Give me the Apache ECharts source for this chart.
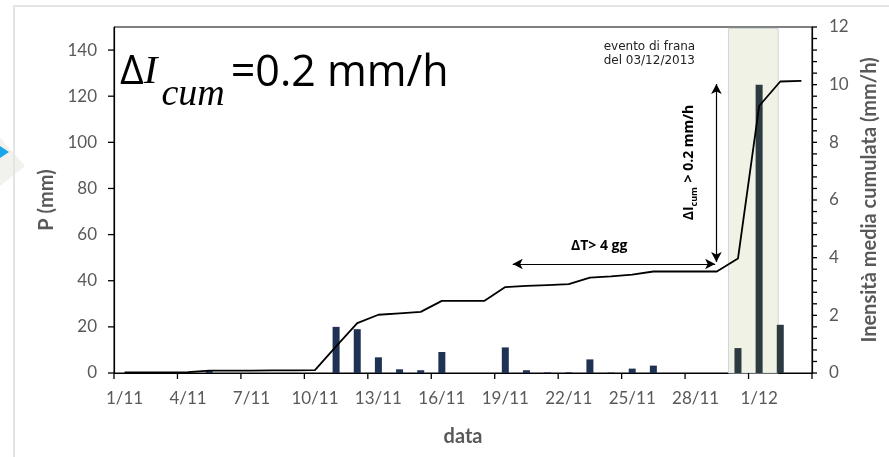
<!DOCTYPE html>
<html><head><meta charset="utf-8">
<script src="https://cdn.jsdelivr.net/npm/echarts@6/dist/echarts.min.js"></script>
<style>html,body{margin:0;padding:0;background:#fff}#c{width:889px;height:457px}</style>
</head><body><div id="c"></div>
<script>
// ---- data ----
const categories = ['1/11','2/11','3/11','4/11','5/11','6/11','7/11','8/11','9/11','10/11',
  '11/11','12/11','13/11','14/11','15/11','16/11','17/11','18/11','19/11','20/11',
  '21/11','22/11','23/11','24/11','25/11','26/11','27/11','28/11','29/11','30/11',
  '1/12','2/12','3/12'];
const rain = [0,0,0,0,1.2,0,0,0,0,0,
  20,19,6.8,1.6,1.2,9.1,0,0,11.1,1.2,
  0.3,0.3,5.9,0.2,1.9,3.2,0,0,0,10.8,
  125,20.9,0];
const icum = [0.02,0.02,0.02,0.03,0.08,0.08,0.08,0.09,0.09,0.1,
  0.92,1.73,2.02,2.07,2.12,2.5,2.5,2.5,2.98,3.02,
  3.05,3.08,3.31,3.35,3.41,3.52,3.52,3.52,3.52,3.97,
  9.26,10.11,10.13];
const leftTicks = [0,20,40,60,80,100,120,140];
const rightTicks = [0,2,4,6,8,10,12];
const rightTickMarks = [0,0.4,0.8,1.2,1.6,2,2.4,2.8,3.2,3.6,4,4.4,4.8,5.2,5.6,6,
  6.4,6.8,7.2,7.6,8,8.4,8.8,9.2,9.6,10,10.4,10.8,11.2,11.6,12];
const xTickDays = [0,3,6,9,12,15,18,21,24,27,30,33];

// annotations in (days from 1/11, mm/h) units
const eventWindow = [29.05, 31.4];
const eventDays = [29, 30, 31];
const dtArrow = [[18.85, 3.78], [28.42, 3.78]];
const diArrow = [[28.48, 3.85], [28.48, 10.02]];
const dtLabelAt = [22.94, 4.42];
const diLabelAt = [27.25, 7.3];
const eventLabelAt = [23.15, 11.07];

const chart = echarts.init(document.getElementById('c'));
const gray = '#595959';
const lab = {color: gray, fontFamily: 'Lato', fontSize: 17};
const nameStyle = {color: gray, fontFamily: 'Lato', fontWeight: 'bold', fontSize: 20};

const option = {
  animation: false,
  backgroundColor: '#fff',
  grid: {left: 114, right: 77, top: 27, bottom: 84, show: true, borderColor: '#000', borderWidth: 1},
  xAxis: [{
    type: 'category', data: categories, boundaryGap: true,
    axisLine: {lineStyle: {color: '#000', width: 1.2}},
    axisTick: {show: false},
    axisLabel: Object.assign({interval: 2, margin: 17}, lab),
    splitLine: {show: false},
    name: 'data', nameLocation: 'middle', nameGap: 54, nameTextStyle: nameStyle
  }, {
    type: 'value', min: 0, max: 33, show: false, position: 'top'
  }],
  yAxis: [{
    type: 'value', min: 0, max: 150, position: 'left',
    axisLine: {show: true, lineStyle: {color: '#000', width: 1.2}},
    axisTick: {show: false},
    axisLabel: Object.assign({margin: 17, customValues: leftTicks}, lab),
    splitLine: {show: false},
    name: 'P (mm)', nameLocation: 'middle', nameGap: 54, nameRotate: 90, nameTextStyle: nameStyle
  }, {
    type: 'value', min: 0, max: 12, position: 'right',
    axisLine: {show: true, lineStyle: {color: '#000', width: 1.2}},
    axisTick: {show: false},
    axisLabel: Object.assign({margin: 17, customValues: rightTicks}, lab),
    splitLine: {show: false},
    name: 'Inensità media cumulata (mm/h)', nameLocation: 'middle', nameGap: 47, nameRotate: 90, nameTextStyle: nameStyle
  }],
  series: [{
    type: 'line', xAxisIndex: 1, yAxisIndex: 1, data: [], z: 0, silent: true,
    markArea: {
      silent: true,
      itemStyle: {color: '#eff2e4', borderColor: '#cdd5da', borderWidth: 1},
      data: [[{coord: [eventWindow[0], 0]}, {coord: [eventWindow[1], 11.95]}]]
    }
  }, {
    type: 'bar', xAxisIndex: 0, yAxisIndex: 0, data: rain, barWidth: 7, z: 3,
    itemStyle: {color: p => eventDays.includes(p.dataIndex) ? '#2c3a41' : '#1f3253'}
  }, {
    type: 'line', xAxisIndex: 0, yAxisIndex: 1, data: icum, z: 4,
    symbol: 'none', lineStyle: {color: '#000', width: 1.8}, itemStyle: {color: '#000'}
  }, {
    type: 'line', xAxisIndex: 1, yAxisIndex: 1, data: [], z: 5, silent: true,
    markLine: {
      silent: true, symbol: ['arrow', 'arrow'], symbolSize: [8, 10],
      lineStyle: {color: '#000', width: 1.2, type: 'solid'},
      label: {show: false},
      data: [[{coord: dtArrow[0]}, {coord: dtArrow[1]}], [{coord: diArrow[0]}, {coord: diArrow[1]}]]
    }
  }]
};
chart.setOption(option);

const px = (pt) => chart.convertToPixel({xAxisIndex: 1, yAxisIndex: 1}, pt);
const dtP = px(dtLabelAt), diP = px(diLabelAt), evP = px(eventLabelAt);

// axis tick marks, positioned through the axes' own scales
const xL = chart.convertToPixel({xAxisIndex: 1}, 0);
const xR = chart.convertToPixel({xAxisIndex: 1}, 33);
const yB = chart.convertToPixel({yAxisIndex: 1}, 0);
const tickStyle = {stroke: '#000', lineWidth: 1.3};
const ticks = [];
leftTicks.forEach(v => {
  const y = chart.convertToPixel({yAxisIndex: 0}, v);
  ticks.push({type: 'line', silent: true, z: 20, shape: {x1: xL - 6, y1: y, x2: xL, y2: y}, style: tickStyle});
});
rightTickMarks.forEach(v => {
  const y = chart.convertToPixel({yAxisIndex: 1}, v);
  ticks.push({type: 'line', silent: true, z: 20, shape: {x1: xR, y1: y, x2: xR + 5, y2: y}, style: tickStyle});
});
xTickDays.forEach(d => {
  const x = chart.convertToPixel({xAxisIndex: 1}, d);
  ticks.push({type: 'line', silent: true, z: 20, shape: {x1: x, y1: yB, x2: x, y2: yB + 6}, style: tickStyle});
});

chart.setOption({
  graphic: [
    {type: 'polygon', silent: true, z: -10, shape: {points: [[0, 138], [25, 166], [0, 186]]}, style: {fill: '#f1f1ee'}},
    {type: 'polygon', silent: true, z: -9, shape: {points: [[0, 146], [9, 152], [0, 158]]}, style: {fill: '#19a6e8'}},
    {type: 'rect', silent: true, z: -10, shape: {x: 14, y: 6, width: 900, height: 500}, style: {fill: 'none', stroke: '#e4e4e4', lineWidth: 2}},
    {type: 'text', silent: true, z: 10, x: 120, y: 52, style: {
      text: '{d|Δ}{i|I}{s|cum}{n|=0.2 mm/h}',
      textVerticalAlign: 'top',
      rich: {
        d: {fontFamily: 'Open Sans', fontSize: 41, fill: '#000', verticalAlign: 'top'},
        i: {fontFamily: 'Liberation Serif', fontStyle: 'italic', fontSize: 41, fill: '#000', verticalAlign: 'top', padding: [0, 4, 0, 0]},
        s: {fontFamily: 'Liberation Serif', fontStyle: 'italic', fontSize: 38, fill: '#000', verticalAlign: 'top', padding: [24, 6, 0, 0]},
        n: {fontFamily: 'Open Sans', fontSize: 43, fill: '#000', verticalAlign: 'top'}
      }
    }},
    {type: 'text', silent: true, z: 10, x: dtP[0], y: dtP[1], style: {
      text: 'ΔT> 4 gg', fontFamily: 'Open Sans', fontWeight: 'bold', fontSize: 14, fill: '#000',
      textAlign: 'center', textVerticalAlign: 'middle'
    }},
    {type: 'text', silent: true, z: 10, x: diP[0], y: diP[1], rotation: Math.PI / 2, style: {
      text: '{b|ΔI}{s|cum}{b| > 0.2 mm/h}',
      textAlign: 'center', textVerticalAlign: 'middle',
      rich: {
        b: {fontFamily: 'Open Sans', fontWeight: 'bold', fontSize: 14, fill: '#000', verticalAlign: 'top'},
        s: {fontFamily: 'Open Sans', fontWeight: 'bold', fontSize: 9, fill: '#000', verticalAlign: 'top', padding: [8, 1, 0, 0]}
      }
    }},
    {type: 'text', silent: true, z: 10, x: evP[0], y: evP[1], style: {
      text: 'evento di frana\ndel 03/12/2013', fontFamily: 'DejaVu Sans', fontSize: 12, lineHeight: 14,
      fill: '#222', textAlign: 'left', textVerticalAlign: 'middle'
    }}
  ].concat(ticks)
});
</script></body></html>
